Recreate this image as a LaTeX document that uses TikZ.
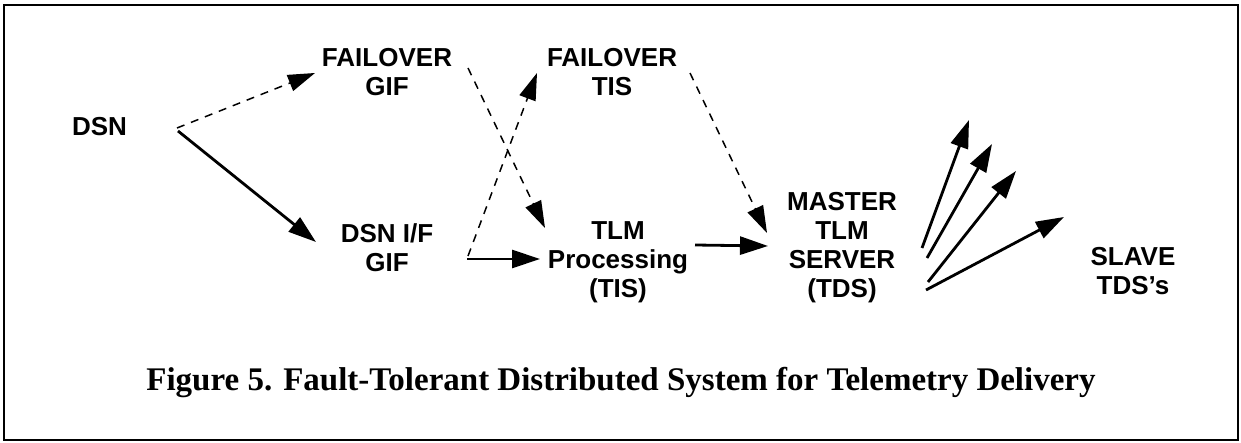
\documentclass[tikz,border=0pt]{standalone}
\usepackage{fontspec}
\setmainfont{Liberation Sans}
\newfontfamily\capfont{Liberation Serif}
\usetikzlibrary{arrows.meta}
\begin{document}
\begin{tikzpicture}[x=1pt,y=-1pt,
  lab/.style={font=\fontsize{26}{29}\selectfont\bfseries, align=center, inner sep=0pt, anchor=base},
  solidarr/.style={line width=2.8pt, -{Triangle[length=28pt,width=18pt]}},
  dasharr/.style={line width=1.5pt, dash pattern=on 8pt off 7pt, -{Triangle[length=27pt,width=17pt]}},
  captext/.style={font=\capfont\fontsize{33}{36}\selectfont\bfseries, inner sep=0pt, anchor=base}
]
\useasboundingbox (0,0) rectangle (1241,443);
\draw[line width=2pt] (4,5) rectangle (1238,440);

% nodes (base anchor = baseline of the last line)
\node[lab] (dsn) at (99.5,136) {DSN};
\node[lab] (fgif) at (387,96) {FAILOVER\\GIF};
\node[lab] (ftis) at (612,96) {FAILOVER\\TIS};
\node[lab] (dgif) at (387,272) {DSN I/F\\GIF};
\node[lab] (tlm) at (618,298) {TLM\\Processing\\(TIS)};
\node[lab] (master) at (842,298) {MASTER\\TLM\\SERVER\\(TDS)};
\node[lab] (slave) at (1133,295) {SLAVE\\TDS’s};
\node[captext] (cap) at (621,390) {Figure 5. Fault-Tolerant Distributed System for Telemetry Delivery};

% connector end points
\coordinate (dsnA) at (177,128);
\coordinate (fgifIn) at (315,73);
\coordinate (dsnB) at (178,131);
\coordinate (dgifIn) at (316,242);
\coordinate (fgifOut) at (468,68);
\coordinate (tlmInD) at (545,228);
\coordinate (dgifOutD) at (468,256);
\coordinate (ftisIn) at (537,73);
\coordinate (dgifOut) at (467,259);
\coordinate (tlmIn) at (540,259);
\coordinate (ftisOut) at (690,73);
\coordinate (masterInD) at (767,233);
\coordinate (tlmOut) at (695,245);
\coordinate (masterIn) at (768,246);
\coordinate (m1) at (922,248);
\coordinate (m2) at (927,258);
\coordinate (m3) at (928,282);
\coordinate (m4) at (926,290);
\coordinate (s1) at (969,120);
\coordinate (s2) at (992,144);
\coordinate (s3) at (1016,171);
\coordinate (s4) at (1064,217);

% connectors
\draw[dasharr] (dsnA) -- (fgifIn);
\draw[solidarr] (dsnB) -- (dgifIn);
\draw[dasharr] (fgifOut) -- (tlmInD);
\draw[dasharr] (dgifOutD) -- (ftisIn);
\draw[solidarr] (dgifOut) -- (tlmIn);
\draw[dasharr] (ftisOut) -- (masterInD);
\draw[solidarr] (tlmOut) -- (masterIn);
\draw[solidarr] (m1) -- (s1);
\draw[solidarr] (m2) -- (s2);
\draw[solidarr] (m3) -- (s3);
\draw[solidarr] (m4) -- (s4);
\end{tikzpicture}
\end{document}
